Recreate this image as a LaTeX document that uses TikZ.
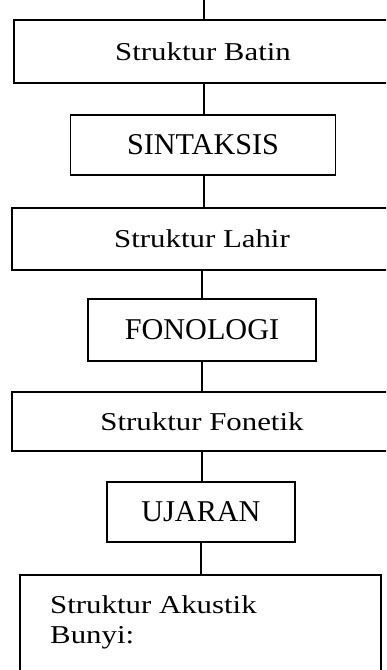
\documentclass[tikz,border=0pt]{standalone}
\usepackage{fontspec}
\setmainfont{Liberation Serif}
\newfontfamily\widefont{Liberation Serif}[FakeStretch=1.2]
\begin{document}
\begin{tikzpicture}[x=1pt,y=-1pt,
  box/.style={draw, line width=1.7pt, inner sep=0pt, align=center},
  lower/.style={font=\widefont\fontsize{25.7}{30}\selectfont},
  upper/.style={font=\fontsize{30.2}{34}\selectfont},
  link/.style={line width=1.4pt}]
\useasboundingbox (0,0) rectangle (386,670);
\clip (0,0) rectangle (386,670);

% processing chain, top to bottom
\node[box, lower, minimum width=378pt, minimum height=63pt] (batin)    at (203,51.5) {Struktur Batin};
\node[box, upper, minimum width=265pt, minimum height=60pt] (sintaksis) at (203,145)  {SINTAKSIS};
\node[box, lower, minimum width=380pt, minimum height=62pt] (lahir)    at (202,239)  {Struktur Lahir};
\node[box, upper, minimum width=228pt, minimum height=62pt] (fonologi) at (202,330)  {FONOLOGI};
\node[box, lower, minimum width=380pt, minimum height=59pt] (fonetik)  at (202,421.5) {Struktur Fonetik};
\node[box, upper, minimum width=188pt, minimum height=60pt] (ujaran)   at (201,512)  {UJARAN};
\node[box, minimum width=361pt, minimum height=140pt, anchor=north west] (akustik) at (19,574) {};
\node[lower, anchor=base west, align=left, inner sep=0pt] (akustiktext) at (50,643)
      {Struktur Akustik\\Bunyi:};

% connectors
\coordinate (top) at (204,0);
\draw[link] (top) -- (top |- batin.north);
\draw[link] (batin.south -| top) -- (top |- sintaksis.north);
\draw[link] (sintaksis.south -| top) -- (top |- lahir.north);
\draw[link] (lahir.south) -- (lahir.south |- fonologi.north);
\draw[link] (fonologi.south) -- (fonologi.south |- fonetik.north);
\draw[link] (fonetik.south) -- (fonetik.south |- ujaran.north);
\draw[link] (ujaran.south) -- (ujaran.south |- akustik.north);
\end{tikzpicture}
\end{document}
